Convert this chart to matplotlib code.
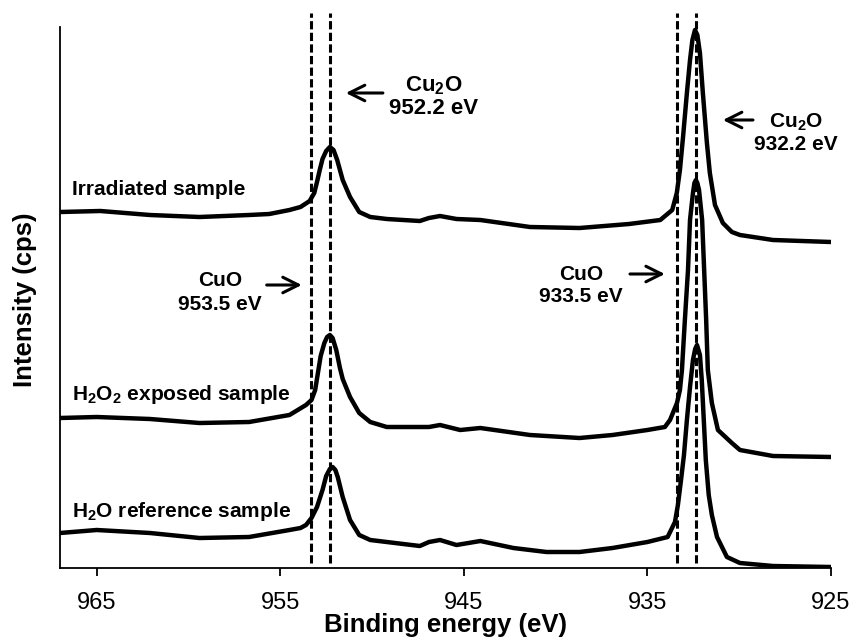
import matplotlib
matplotlib.use("Agg")
import matplotlib.pyplot as plt

plt.rcParams['font.family'] = ['Liberation Sans', 'DejaVu Sans']
plt.rcParams['mathtext.fontset'] = 'custom'
plt.rcParams['mathtext.rm'] = 'Liberation Sans:bold'
plt.rcParams['mathtext.default'] = 'rm'

# binding energy (eV) / stacked intensity
irr_e = [967.0, 964.8, 962.1, 959.4, 956.7, 955.6, 954.5, 953.9, 953.4, 953.15,
         953.0, 952.85, 952.7, 952.5, 952.3, 952.1, 951.9, 951.6, 951.2, 950.7,
         950.1, 949.2, 947.4, 946.9, 946.3, 945.4, 944.1, 941.4, 938.7, 936.0,
         934.3, 933.65, 933.4, 933.23, 933.06, 932.85, 932.68, 932.55, 932.41,
         932.28, 932.14, 931.98, 931.76, 931.6, 931.32, 930.89, 930.4, 929.96,
         928.16, 925.0]
irr_i = [356, 357, 353, 351, 353, 354, 358, 361, 367, 375,
         386, 398, 409, 417, 421, 418, 408, 388, 371, 356,
         351, 349, 347, 350, 352, 349, 348, 341, 340, 344,
         348, 358, 375, 398, 431, 475, 508, 528, 538,
         533, 515, 475, 425, 395, 363, 345, 336, 333,
         328, 326]

h2o2_e = [967.0, 965.0, 962.1, 959.4, 956.7, 954.5, 953.6, 953.3, 953.1, 952.95,
          952.8, 952.6, 952.45, 952.3, 952.15, 951.95, 951.75, 951.6, 951.2, 950.7,
          950.1, 949.2, 947.4, 946.9, 946.3, 945.2, 944.1, 941.4, 938.7, 936.9,
          935.0, 934.05, 933.77, 933.39, 933.23, 933.12, 932.96, 932.79, 932.68,
          932.52, 932.44, 932.36, 932.28, 932.19, 932.02, 931.91, 931.8, 931.71,
          931.49, 931.16, 930.4, 929.96, 928.16, 925.0]
h2o2_i = [150, 151, 149, 145, 146, 153, 163, 168, 178, 195,
          212, 225, 231, 233, 230, 218, 200, 189, 171, 155,
          146, 141, 141, 141, 143, 138, 140, 133, 130, 133,
          138, 141, 148, 165, 178, 198, 248, 298, 348,
          375, 385, 388, 385, 378, 348, 298, 248, 198,
          165, 138, 125, 118, 112, 111]

h2o_e = [967.0, 965.0, 962.1, 959.4, 956.7, 954.5, 953.9, 953.6, 953.3, 953.0,
         952.7, 952.5, 952.3, 952.15, 952.0, 951.87, 951.6, 951.2, 950.7, 950.1,
         948.3, 947.4, 946.9, 946.3, 945.4, 944.1, 942.3, 940.5, 938.7, 936.9,
         935.0, 933.9, 933.5, 933.34, 933.17, 933.01, 932.85, 932.68, 932.52,
         932.4, 932.3, 932.14, 932.04, 931.93, 931.82, 931.66, 931.49, 931.21,
         930.67, 929.96, 928.16, 925.0]
h2o_i = [35, 38, 35, 30, 31, 38, 40, 43, 50, 61,
         78, 92, 99, 101, 98, 91, 71, 48, 33, 28,
         24, 22, 26, 28, 23, 27, 20, 16, 16, 20,
         26, 31, 46, 63, 88, 113, 148, 181, 208,
         219, 223, 213, 188, 148, 108, 73, 53, 31,
         11, 5, 2, 1]

series = [(irr_e, irr_i), (h2o2_e, h2o2_i), (h2o_e, h2o_i)]
sample_names = ['Irradiated sample', 'H$_2$O$_2$ exposed sample', 'H$_2$O reference sample']
ref_lines = [953.3, 952.3, 933.4, 932.35]
xticks = [965, 955, 945, 935, 925]

fig = plt.figure(figsize=(8.57, 6.4), dpi=100)
ax = fig.add_axes([60 / 857, 1 - 568 / 640, 771 / 857, 541 / 640])

for e, i in series:
    ax.plot(e, i, color='black', lw=3.2, solid_joinstyle='round', zorder=3)

for x in ref_lines:
    ax.plot([x, x], [5, 555], color='black', lw=2.2, linestyle=(0, (2.7, 1.1)),
            clip_on=False, zorder=4)

ax.set_xlim(967, 925)
ax.set_ylim(0, 541)
ax.set_xticks(xticks)
ax.set_xticklabels([str(t) for t in xticks])
ax.set_yticks([])
ax.tick_params(axis='x', direction='out', length=6, width=1.3, labelsize=17, pad=11)
for s in ['top', 'right']:
    ax.spines[s].set_visible(False)
for s in ['left', 'bottom']:
    ax.spines[s].set_linewidth(1.3)

ax.set_xlabel('Binding energy (eV)', fontsize=18.5, fontweight='bold')
ax.xaxis.set_label_coords(0.5, -0.083)
ax.set_ylabel('Intensity (cps)', fontsize=18.5, fontweight='bold')
ax.yaxis.set_label_coords(-0.03, 0.495)

# sample labels
label_y = [373, 168, 51]
for name, y in zip(sample_names, label_y):
    ax.text(966.35, y, name, fontsize=15, fontweight='bold', ha='left', va='baseline')

# peak annotations
def note(x, y1, y2, top, bottom, size):
    ax.text(x, y1, top, fontsize=size, fontweight='bold', ha='center', va='center')
    ax.text(x, y2, bottom, fontsize=size, fontweight='bold', ha='center', va='center')

note(946.63, 482, 460, 'Cu$_2$O', '952.2 eV', 16)
note(926.91, 446, 423, 'Cu$_2$O', '932.2 eV', 15)
note(958.3, 288, 264, 'CuO', '953.5 eV', 15)
note(938.62, 294, 271, 'CuO', '933.5 eV', 15)

arrows = [((951.43, 475), (949.41, 475)), ((930.89, 448), (929.25, 448)),
          ((953.83, 283), (955.74, 283)), ((934.05, 294), (935.95, 294))]
for head, tail in arrows:
    ax.annotate('', xy=head, xytext=tail,
                arrowprops=dict(arrowstyle='->', lw=2.2, color='black',
                                mutation_scale=28, shrinkA=0, shrinkB=0))

fig.savefig('out.png', dpi=100)
